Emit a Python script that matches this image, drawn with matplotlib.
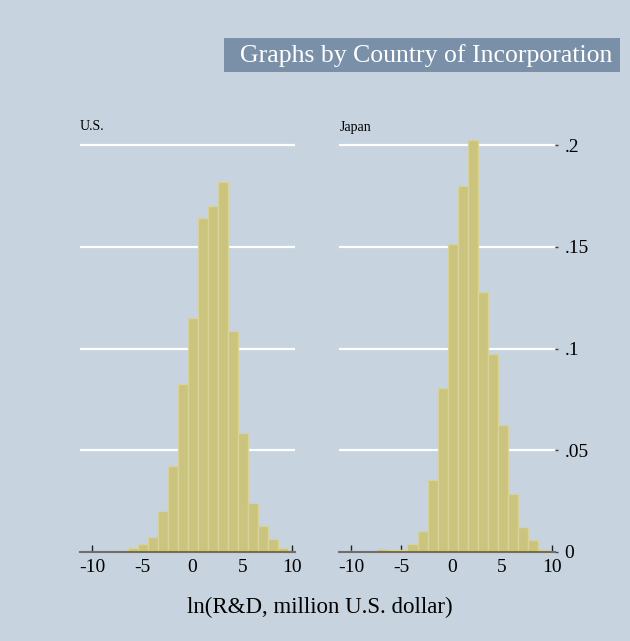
import numpy as np
import matplotlib
matplotlib.use('Agg')
import matplotlib.pyplot as plt
from matplotlib.patches import Rectangle

# 直方图数据（密度，组宽 = 1）
bin_left = [-10.4, -7.4, -6.4, -5.4, -4.4, -3.4, -2.4, -1.4, -0.4, 0.6, 1.6, 2.6, 3.6, 4.6, 5.6, 6.6, 7.6, 8.6]
us_density = [0.0, 0.0006, 0.0020, 0.0038, 0.0075, 0.0200, 0.0423, 0.0824, 0.1150, 0.1640, 0.1700, 0.1817,
              0.1086, 0.0583, 0.0239, 0.0128, 0.0065, 0.0020]
jp_density = [0.0006, 0.0015, 0.0010, 0.0008, 0.0040, 0.0105, 0.0356, 0.0808, 0.1513, 0.1799, 0.2025, 0.1279,
              0.0972, 0.0622, 0.0287, 0.0121, 0.0060, 0.0011]
x_ticks = [-10, -5, 0, 5, 10]
y_ticks = [0, 0.05, 0.1, 0.15, 0.2]
y_tick_labels = ['0', '.05', '.1', '.15', '.2']

bg = '#c7d3df'
bar_fill = '#cac47e'
bar_edge = '#d9d399'

plt.rcParams['font.family'] = ['Liberation Serif', 'DejaVu Serif']

W, H = 630, 641
fig = plt.figure(figsize=(W / 100, H / 100), dpi=100, facecolor=bg)

def px_rect(x0, x1, y_top, y_bot):
    return [x0 / W, 1 - y_bot / H, (x1 - x0) / W, (y_bot - y_top) / H]

panels = [
    ('U.S.', us_density, px_rect(80, 295, 135, 552), 80),
    ('Japan', jp_density, px_rect(339, 555, 135, 552), 340),
]

axes = []
for name, dens, rect, title_x in panels:
    ax = fig.add_axes(rect, facecolor=bg)
    ax.set_xlim(-11.2, 10.25)
    ax.set_ylim(0, 0.205)
    for yv in y_ticks[1:]:
        ax.axhline(yv, color='white', lw=1.6, zorder=1)
    ax.bar(bin_left, dens, width=1.0, align='edge', color=bar_fill,
           edgecolor=bar_edge, linewidth=1.0, zorder=2)
    for s in ['top', 'left', 'right']:
        ax.spines[s].set_visible(False)
    ax.spines['bottom'].set_color('#6e6e6e')
    ax.spines['bottom'].set_linewidth(1.5)
    ax.spines['bottom'].set_zorder(3)
    ax.set_xticks(x_ticks)
    ax.set_xticklabels([str(t) for t in x_ticks])
    ax.tick_params(axis='x', direction='in', length=5, width=1, color='#222222',
                   labelsize=14, pad=5)
    ax.set_yticks([])
    fig.text(title_x / W, 1 - 127 / H, name, fontsize=10, ha='left', va='center', color='black')
    axes.append(ax)

# 右侧 y 轴刻度
ax_r = axes[1]
ax_r.yaxis.tick_right()
ax_r.set_yticks(y_ticks)
ax_r.set_yticklabels(y_tick_labels)
ax_r.tick_params(axis='y', direction='out', length=2, width=1, color='#444444',
                 labelsize=14, pad=5, right=True, left=False)

# 标题框
fig.patches.append(Rectangle((224 / W, 1 - 72 / H), (620 - 224) / W, 34 / H,
                             transform=fig.transFigure, facecolor='#7a90a8', edgecolor='none'))
fig.text(612 / W, 1 - 56 / H, 'Graphs by Country of Incorporation', fontsize=18.5,
         color='white', ha='right', va='center')

fig.text(320 / W, 1 - 607 / H, 'ln(R&D, million U.S. dollar)', fontsize=16.5,
         ha='center', va='center', color='black')

fig.savefig('out.png', dpi=100, facecolor=bg)
